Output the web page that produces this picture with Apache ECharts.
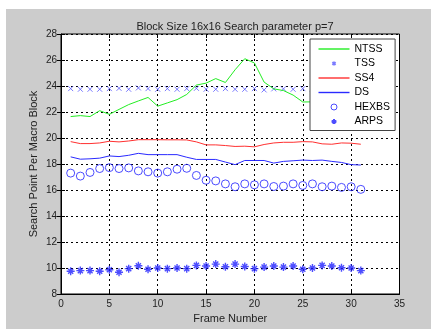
<!DOCTYPE html>
<html>
<head>
<meta charset="utf-8">
<script src="https://cdn.jsdelivr.net/npm/echarts@6/dist/echarts.min.js"></script>
<style>
  body { margin: 0; background: #fff; }
  #main { position: absolute; left: 6px; top: 9px; width: 425px; height: 320px; background: #cccccc; }
</style>
</head>
<body>
<div id="main"></div>
<script>
var frames = [1,2,3,4,5,6,7,8,9,10,11,12,13,14,15,16,17,18,19,20,21,22,23,24,25,26,27,28,29,30,31];
var ntss  = [21.65,21.72,21.65,22.1,21.82,22.2,22.57,22.85,23.12,22.45,22.7,22.95,23.35,24.07,24.22,24.57,24.27,25.25,26.1,25.77,24.3,23.78,23.65,23.3,22.77,22.78,22.8,22.9,22.8,22.85,22.8];
var tss   = [23.8,23.75,23.75,23.75,23.8,23.82,23.75,23.85,23.8,23.75,23.8,23.75,23.8,23.82,23.75,23.75,23.8,23.75,23.75,23.8,23.7,23.78,23.78,23.75,23.8,23.75,23.8,23.75,23.8,23.75,23.8];
var ss4   = [19.72,19.57,19.57,19.62,19.75,19.7,19.77,19.87,19.87,19.87,19.86,19.86,19.85,19.7,19.47,19.47,19.42,19.35,19.37,19.32,19.5,19.62,19.67,19.67,19.72,19.7,19.55,19.52,19.62,19.6,19.52];
var ds    = [18.55,18.37,18.4,18.45,18.62,18.57,18.67,18.82,18.72,18.72,18.72,18.72,18.52,18.35,18.35,18.35,18.15,17.95,18.27,18.27,18.27,18.07,18.2,18.25,18.3,18.27,18.3,18.2,18.12,17.95,17.92];
var hexbs = [17.3,17.07,17.35,17.65,17.72,17.65,17.7,17.47,17.4,17.3,17.4,17.6,17.67,17.12,16.75,16.7,16.47,16.25,16.47,16.4,16.47,16.27,16.3,16.47,16.35,16.47,16.25,16.3,16.2,16.25,16.05];
var arps  = [9.75,9.8,9.8,9.75,9.87,9.67,9.95,10.17,9.9,10,9.95,10,9.95,10.2,10.15,10.3,10.1,10.3,10.12,9.95,10.07,10.15,10.07,10.15,9.9,10,10.2,10.15,10.02,10,9.8];

function pairs(vals) {
  return frames.map(function (f, i) { return [f, vals[i]]; });
}

var myChart = echarts.init(document.getElementById('main'));
var font = 'Liberation Sans, Arial, sans-serif';
var dotted = { color: '#000', width: 1, type: [2, 3] };

// legend icons, padded inside a 10x10 box so markers stay small
var lineIcon = 'path://M0,0 H31 V1.4 H0 Z';
var xIcon = 'path://M0,0 M3.5,3.5 L6.5,6.5 M6.5,3.5 L3.5,6.5 M10,10';
var circIcon = 'path://M0,0 M2,5 A3,3 0 1 1 8,5 A3,3 0 1 1 2,5 Z M10,10';
var starIcon = 'path://M0,0 M5,2.5 L5,7.5 M2.5,5 L7.5,5 M3.3,3.3 L6.7,6.7 M6.7,3.3 L3.3,6.7 M10,10';

var option = {
  backgroundColor: 'transparent',
  animation: false,
  textStyle: { fontFamily: font },
  title: {
    text: 'Block Size 16x16 Search parameter p=7',
    left: 224,
    textAlign: 'center',
    top: 7,
    textStyle: { fontSize: 11, fontWeight: 'normal', color: '#222', fontFamily: font }
  },
  grid: {
    left: 55, right: 31.5, top: 25, bottom: 28,
    show: true, backgroundColor: '#fff', borderColor: '#000', borderWidth: 1
  },
  legend: {
    orient: 'vertical',
    left: 304, top: 30,
    padding: [4, 5, 3, 8.5],
    itemWidth: 31, itemHeight: 10, itemGap: 2.5,
    backgroundColor: '#fff', borderColor: '#444', borderWidth: 1,
    textStyle: { fontSize: 10.5, lineHeight: 12, color: '#000', fontFamily: font },
    data: [
      { name: 'NTSS', icon: lineIcon },
      { name: 'TSS', icon: xIcon },
      { name: 'SS4', icon: lineIcon },
      { name: 'DS', icon: lineIcon },
      { name: 'HEXBS', icon: circIcon, itemStyle: { color: '#fff', borderColor: '#2020ff', borderWidth: 1 } },
      { name: 'ARPS', icon: starIcon }
    ]
  },
  xAxis: [{
    type: 'value', min: 0, max: 35, interval: 5,
    name: 'Frame Number', nameLocation: 'middle', nameGap: 19, nameMoveOverlap: false,
    nameTextStyle: { fontSize: 11, color: '#222' },
    axisLine: { lineStyle: { color: '#000' } },
    axisTick: { inside: true, length: 4, lineStyle: { color: '#000' } },
    axisLabel: { fontSize: 10, color: '#222', margin: 5, showMinLabel: true, showMaxLabel: true },
    splitLine: { show: true, lineStyle: dotted }
  }, {
    type: 'value', min: 0, max: 35, interval: 5, position: 'top',
    axisLine: { show: false },
    axisTick: { inside: true, length: 4, lineStyle: { color: '#000' } },
    axisLabel: { show: false }, splitLine: { show: false }
  }],
  yAxis: [{
    type: 'value', min: 8, max: 28, interval: 2,
    name: 'Search Point Per Macro Block', nameLocation: 'middle', nameGap: 22, nameMoveOverlap: false,
    nameTextStyle: { fontSize: 11, color: '#222' },
    axisLine: { show: true, lineStyle: { color: '#000' } },
    axisTick: { show: true, inside: true, length: 4, lineStyle: { color: '#000' } },
    axisLabel: { fontSize: 10, color: '#222', margin: 4 },
    splitLine: { show: true, lineStyle: dotted }
  }, {
    type: 'value', min: 8, max: 28, interval: 2, position: 'right',
    axisLine: { show: false },
    axisTick: { show: true, inside: true, length: 4, lineStyle: { color: '#000' } },
    axisLabel: { show: false }, splitLine: { show: false }
  }],
  series: [
    {
      name: 'NTSS', type: 'line', data: pairs(ntss), symbol: 'none',
      itemStyle: { color: '#22ee22' }, lineStyle: { color: '#22ee22', width: 1 }
    },
    {
      name: 'TSS', type: 'scatter', data: pairs(tss),
      symbol: 'path://M0,0 L10,10 M10,0 L0,10', symbolSize: 5,
      itemStyle: { color: '#5a5aff', borderColor: '#5a5aff', borderWidth: 1 }
    },
    {
      name: 'SS4', type: 'line', data: pairs(ss4), symbol: 'none',
      itemStyle: { color: '#ff3030' }, lineStyle: { color: '#ff3030', width: 1 }
    },
    {
      name: 'DS', type: 'line', data: pairs(ds), symbol: 'none',
      itemStyle: { color: '#2a2aff' }, lineStyle: { color: '#2a2aff', width: 1 }
    },
    {
      name: 'HEXBS', type: 'scatter', data: pairs(hexbs),
      symbol: 'circle', symbolSize: 8,
      itemStyle: { color: 'rgba(255,255,255,0)', borderColor: '#2020ff', borderWidth: 1 }
    },
    {
      name: 'ARPS', type: 'scatter', data: pairs(arps),
      symbol: 'path://M5,0 L5,10 M0,5 L10,5 M1.8,1.8 L8.2,8.2 M8.2,1.8 L1.8,8.2', symbolSize: 8,
      itemStyle: { color: '#2020ff', borderColor: '#2020ff', borderWidth: 1.4 }
    }
  ]
};
myChart.setOption(option);
window.addEventListener('resize', function () {
  myChart.resize();
});
</script>
</body>
</html>
